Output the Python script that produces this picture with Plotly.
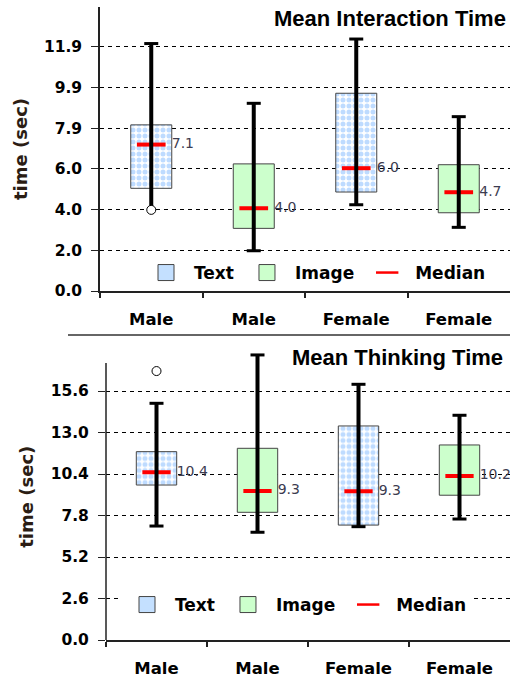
import plotly.graph_objects as go

# ---------------- data ----------------
categories = ["Male", "Male", "Female", "Female"]
conditions = ["Text", "Image", "Text", "Image"]

interaction_q1 = [5.00, 3.05, 4.82, 3.81]
interaction_q3 = [8.09, 6.19, 9.63, 6.15]
interaction_median = [7.13, 4.03, 5.98, 4.81]
interaction_median_labels = ["7.1", "4.0", "6.0", "4.7"]
interaction_whisker_low = [3.95, 1.96, 4.20, 3.10]
interaction_whisker_high = [12.05, 9.14, 12.27, 8.49]
interaction_outlier_index = [0]
interaction_outlier_values = [3.95]
interaction_ticks = [0.0, 1.98, 3.97, 5.95, 7.93, 9.92, 11.9]
interaction_tick_labels = ["0.0", "2.0", "4.0", "6.0", "7.9", "9.9", "11.9"]

thinking_q1 = [9.71, 8.00, 7.20, 9.07]
thinking_q3 = [11.80, 12.01, 13.41, 12.22]
thinking_median = [10.51, 9.34, 9.32, 10.28]
thinking_median_labels = ["10.4", "9.3", "9.3", "10.2"]
thinking_whisker_low = [7.14, 6.75, 7.10, 7.58]
thinking_whisker_high = [14.83, 17.86, 16.02, 14.08]
thinking_outlier_index = [0]
thinking_outlier_values = [16.85]
thinking_ticks = [0.0, 2.6, 5.2, 7.8, 10.4, 13.0, 15.6]
thinking_tick_labels = ["0.0", "2.6", "5.2", "7.8", "10.4", "13.0", "15.6"]

# ---------------- style ----------------
FONT = "Liberation Sans, Arial, sans-serif"
WIDE = "DejaVu Sans, Verdana, sans-serif"
TEXT_DOTS = "#7db8ff"
TEXT_SWATCH = "#c4e0ff"
IMAGE_FILL = "#ccffcc"
BOX_EDGE = "#444444"
BOX_WIDTH = 0.4
MED_HALF = 0.14

fig = go.Figure()


def add_panel(q1, q3, med, med_labels, wlo, whi, out_idx, out_vals, xa, ya, legend):
    pos = list(range(len(categories)))
    # boxes
    for cond, fill, pattern in [
        ("Text", "white", dict(shape=".", fgcolor=TEXT_DOTS, bgcolor="white", size=6, solidity=0.55)),
        ("Image", IMAGE_FILL, None),
    ]:
        idx = [i for i in pos if conditions[i] == cond]
        marker = dict(color=fill, line=dict(color=BOX_EDGE, width=1))
        if pattern:
            marker["pattern"] = pattern
        fig.add_trace(go.Bar(
            x=[pos[i] for i in idx],
            y=[q3[i] - q1[i] for i in idx],
            base=[q1[i] for i in idx],
            width=BOX_WIDTH,
            marker=marker,
            name=cond, showlegend=False,
            xaxis=xa, yaxis=ya, hoverinfo="skip",
        ))
    # legend swatches
    for cond, fill in [("Text", TEXT_SWATCH), ("Image", IMAGE_FILL)]:
        fig.add_trace(go.Scatter(
            x=[None], y=[None], mode="markers", name=cond,
            marker=dict(symbol="square", size=16, color=fill, line=dict(color=BOX_EDGE, width=1)),
            xaxis=xa, yaxis=ya, legend=legend))
    # medians
    mx, my = [], []
    for i in pos:
        mx += [pos[i] - MED_HALF, pos[i] + MED_HALF, None]
        my += [med[i], med[i], None]
    fig.add_trace(go.Scatter(x=mx, y=my, mode="lines", line=dict(color="#ff0000", width=4),
                             showlegend=False, xaxis=xa, yaxis=ya, hoverinfo="skip"))
    fig.add_trace(go.Scatter(x=[None], y=[None], mode="markers", name="Median",
                             marker=dict(symbol="line-ew", size=20, color="#ff0000",
                                         line=dict(color="#ff0000", width=2.5)),
                             xaxis=xa, yaxis=ya, legend=legend))
    # whiskers
    wx, wy = [], []
    for i in pos:
        wx += [pos[i], pos[i], None]
        wy += [wlo[i], whi[i], None]
    fig.add_trace(go.Scatter(x=wx, y=wy, mode="lines", line=dict(color="black", width=4),
                             showlegend=False, xaxis=xa, yaxis=ya, hoverinfo="skip"))
    # caps
    cx, cy = [], []
    for i in pos:
        cx.append(pos[i]); cy.append(whi[i])
        low_is_outlier = any(out_idx[k] == i and out_vals[k] <= wlo[i] for k in range(len(out_idx)))
        if not low_is_outlier:
            cx.append(pos[i]); cy.append(wlo[i])
    fig.add_trace(go.Scatter(x=cx, y=cy, mode="markers",
                             marker=dict(symbol="line-ew-open", size=10, color="black",
                                         line=dict(color="black", width=3)),
                             cliponaxis=False, showlegend=False, xaxis=xa, yaxis=ya, hoverinfo="skip"))
    # outliers
    fig.add_trace(go.Scatter(x=[pos[i] for i in out_idx], y=out_vals, mode="markers",
                             marker=dict(symbol="circle", size=9, color="white",
                                         line=dict(color="black", width=1)),
                             cliponaxis=False, showlegend=False, xaxis=xa, yaxis=ya, hoverinfo="skip"))
    # median labels
    fig.add_trace(go.Scatter(x=[p + BOX_WIDTH / 2 for p in pos], y=med, mode="text",
                             text=med_labels, textposition="middle right",
                             textfont=dict(family=WIDE, size=14, color="#3c3c50"),
                             cliponaxis=False, showlegend=False, xaxis=xa, yaxis=ya, hoverinfo="skip"))


add_panel(interaction_q1, interaction_q3, interaction_median, interaction_median_labels,
          interaction_whisker_low, interaction_whisker_high,
          interaction_outlier_index, interaction_outlier_values, "x", "y", "legend")
add_panel(thinking_q1, thinking_q3, thinking_median, thinking_median_labels,
          thinking_whisker_low, thinking_whisker_high,
          thinking_outlier_index, thinking_outlier_values, "x2", "y2", "legend2")

W, H = 510, 679

xaxis_common = dict(
    range=[-0.5, 3.5], tickmode="array", tickvals=[0, 1, 2, 3], ticktext=categories,
    ticks="", showline=True, linecolor="#222222", linewidth=1.5, showgrid=False, zeroline=False,
    tickfont=dict(family=WIDE, size=16.5, color="black", weight="bold"),
    ticklabelstandoff=12, automargin=False,
    minor=dict(tickmode="array", tickvals=[-0.5, 0.5, 1.5, 2.5], ticks="outside", ticklen=5,
               tickwidth=1.5, tickcolor="#222222", showgrid=False),
)
yaxis_common = dict(
    tickmode="array", ticks="outside", ticklen=7, tickwidth=1, tickcolor="#222222",
    showgrid=True, gridcolor="black", gridwidth=1, griddash="4px,4px", zeroline=False,
    tickfont=dict(family=WIDE, size=15.5, color="black", weight="bold"),
    ticklabelstandoff=6, automargin=False,
    title=dict(text="time (sec)", font=dict(family=WIDE, size=18, color="#2b1d14", weight="bold"),
               standoff=12),
)
legend_common = dict(orientation="h", yanchor="middle", xanchor="left",
                     font=dict(family=WIDE, size=17, color="black", weight="bold"),
                     itemwidth=46, traceorder="normal", itemclick=False, itemdoubleclick=False)

fig.update_layout(
    width=W, height=H, margin=dict(l=0, r=0, t=0, b=0, autoexpand=False),
    paper_bgcolor="white", plot_bgcolor="white",
    barmode="overlay", showlegend=True,
    xaxis=dict(domain=[100 / W, 1], anchor="y", **xaxis_common),
    yaxis=dict(domain=[1 - 291 / H, 1 - 7 / H], anchor="x", range=[0, 13.83],
               tickvals=interaction_ticks, ticktext=interaction_tick_labels,
               showline=True, linecolor="#222222", linewidth=1.5, **yaxis_common),
    xaxis2=dict(domain=[106 / W, 1], anchor="y2", **xaxis_common),
    yaxis2=dict(domain=[1 - 640 / H, 1 - 353.5 / H], anchor="x2", range=[0, 17.95],
                tickvals=thinking_ticks, ticktext=thinking_tick_labels,
                showline=False, **yaxis_common),
    legend=dict(x=138 / W, y=1 - 273 / H, bgcolor="rgba(255,255,255,0)", **legend_common),
    legend2=dict(x=119 / W, y=1 - 605 / H, bgcolor="white", **legend_common),
    annotations=[
        dict(text="Mean Interaction Time", xref="paper", yref="paper", x=508 / W, y=1 - 18 / H,
             xanchor="right", yanchor="middle", showarrow=False,
             font=dict(family=FONT, size=22, color="black", weight="bold")),
        dict(text="Mean Thinking Time", xref="paper", yref="paper", x=505 / W, y=1 - 357 / H,
             xanchor="right", yanchor="middle", showarrow=False,
             font=dict(family=FONT, size=22, color="black", weight="bold")),
    ],
    shapes=[
        dict(type="line", xref="paper", yref="paper", x0=68 / W, x1=1, y0=1 - 335 / H, y1=1 - 335 / H,
             line=dict(color="#333333", width=1.5)),
        dict(type="line", xref="x2 domain", yref="y2", x0=0, x1=0, y0=0, y1=17.36,
             line=dict(color="#222222", width=1.5)),
    ],
)

fig.write_html(
    "out.html",
    config={"displayModeBar": False},
    post_script="document.body.style.margin='0';document.body.style.overflow='hidden';",
)
